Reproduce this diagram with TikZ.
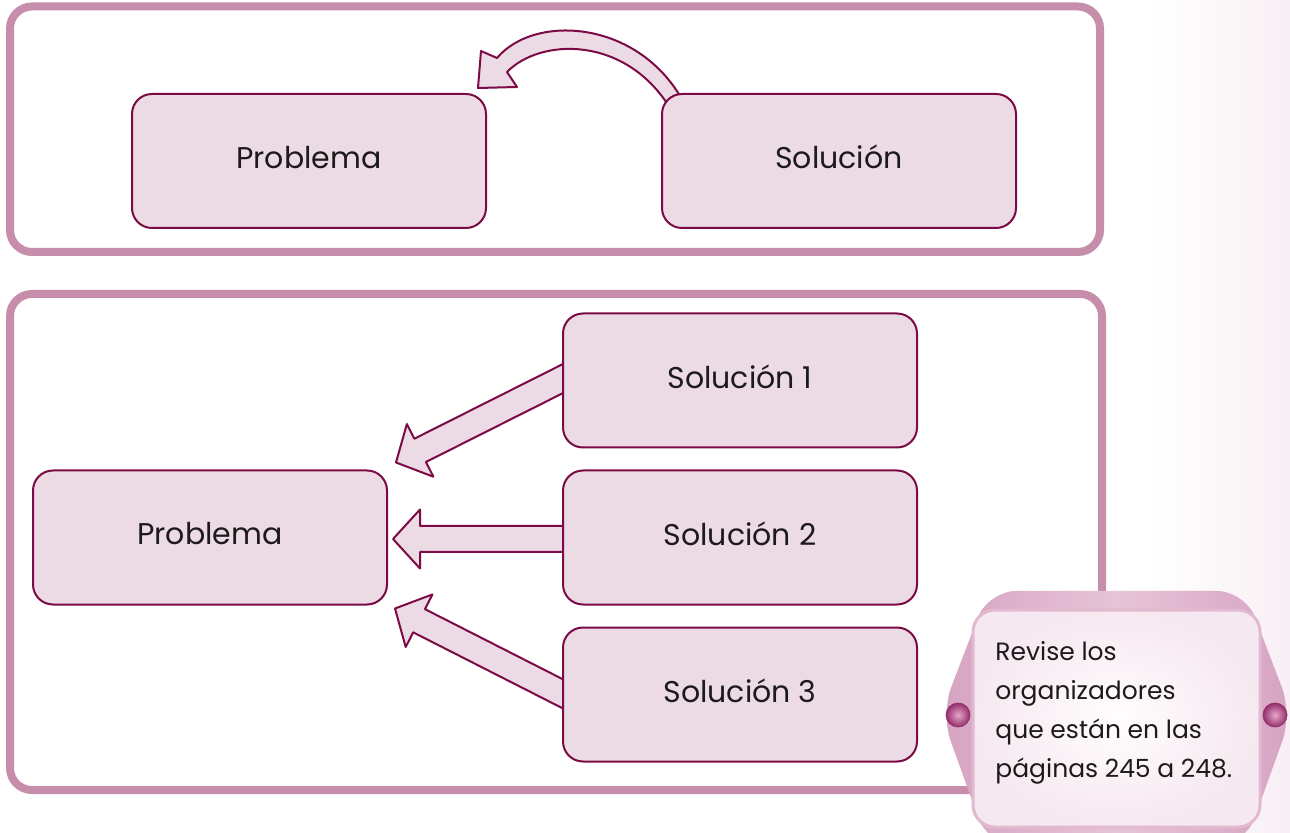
\documentclass[tikz,border=0pt]{standalone}
\usepackage{fontspec}
\setmainfont{Poppins}
\usetikzlibrary{calc}
\pgfdeclarelayer{bg}
\pgfsetlayers{bg,main}

\definecolor{panelc}{HTML}{C78EAB}
\definecolor{boxfill}{HTML}{ECDBE4}
\definecolor{boxline}{HTML}{7B0A45}
\definecolor{ink}{HTML}{1C1A1B}
\definecolor{frameside}{HTML}{D6A3C1}
\definecolor{framemid}{HTML}{E7C4D8}
\definecolor{cardrim}{HTML}{E2BAD0}
\definecolor{cardin}{HTML}{FFFDFE}
\definecolor{cardout}{HTML}{F6E8F0}
\definecolor{beadhi}{HTML}{E8A6CB}
\definecolor{beadlo}{HTML}{94306C}
\definecolor{haze}{HTML}{F8EFF4}

\tikzset{
  panel/.style={draw=panelc, line width=4pt, rounded corners=11pt},
  stage/.style={draw=boxline, fill=boxfill, line width=1pt, rounded corners=10pt,
    minimum width=177pt, minimum height=67pt, text=ink, text depth=4pt,
    font=\fontsize{15}{17}\selectfont},
  fat/.style={draw=boxline, fill=boxfill, line width=1pt, line join=round},
  bead/.style={inner color=beadhi, outer color=beadlo, draw=beadlo, line width=0.4pt},
}

% straight block arrow from #1 (base) to #2 (tip)
\newcommand\fatarrow[2]{%
  \coordinate (fa-h) at ($(#2)!13.5pt!(#1)$);
  \draw[fat] ($(#1)!6.5pt!90:(#2)$) -- ($(fa-h)!6.5pt!-90:(#1)$)
    -- ($(fa-h)!14.75pt!-90:(#1)$) -- (#2)
    -- ($(fa-h)!14.75pt!90:(#1)$) -- ($(fa-h)!6.5pt!90:(#1)$)
    -- ($(#1)!6.5pt!-90:(#2)$) -- cycle;
}

\begin{document}
\begin{tikzpicture}[x=0.5pt, y=-0.5pt]
\useasboundingbox (0,0) rectangle (1290,833);
\clip (0,0) rectangle (1290,833);

% one problem, one solution
\node[stage] (p1) at (309,161) {Problema};
\node[stage] (sol) at (839,161) {Solución};

% one problem, several solutions
\node[stage] (p2) at (210,537.5) {Problema};
\node[stage] (s1) at (740,380.5) {Solución 1};
\node[stage] (s2) at (740,537.5) {Solución 2};
\node[stage] (s3) at (740,694.5) {Solución 3};

\coordinate (a1s) at ($(s1.west)+(11,-7)$);
\coordinate (a1t) at ($(p2.north east)+(8,-7)$);
\coordinate (a2s) at ($(s2.west)+(11,1.5)$);
\coordinate (a2t) at ($(p2.east)+(5,1.5)$);
\coordinate (a3s) at ($(s3.west)+(11,4.5)$);
\coordinate (a3t) at ($(p2.south east)+(7,3)$);

\begin{pgfonlayer}{bg}
  \shade[left color=white, right color=haze] (1150,0) rectangle (1290,833);
  \draw[panel] (10,6.5) rectangle (1100,252);
  \draw[panel] (10,294) rectangle (1102,790);

  \fatarrow{a1s}{a1t}
  \fatarrow{a2s}{a2t}
  \fatarrow{a3s}{a3t}

  % curved arrow from the solution back to the problem
  \begin{scope}[shift={(sol.north west)}]
    \draw[fat] (23,10) .. controls (-21,-73) and (-126,-80) .. (-164,-35)
      -- (-180,-42) -- (-183,-5) -- (-144,-6) -- (-154,-21)
      .. controls (-121,-55) and (-36,-58) .. (9,15) -- cycle;
  \end{scope}
\end{pgfonlayer}

% reminder card
\shade[left color=frameside, right color=frameside, middle color=framemid,
  rounded corners=14pt]
  (988,591) -- (1245,591) -- (1292,714) -- (1245,845) -- (988,845)
  -- (941,714) -- cycle;
\draw[draw=cardrim, line width=1.5pt, inner color=cardin, outer color=cardout,
  rounded corners=11pt] (973,610) rectangle (1260,827);
\draw[bead] (958,715) circle (6pt);
\draw[bead] (1275,715) circle (6pt);
\node[anchor=north west, inner sep=0pt, align=left, text=ink,
  font=\fontsize{12.5}{19.5}\selectfont] (note) at (995,641)
  {Revise los\\organizadores\\que están en las\\páginas 245 a 248.};
\end{tikzpicture}
\end{document}
